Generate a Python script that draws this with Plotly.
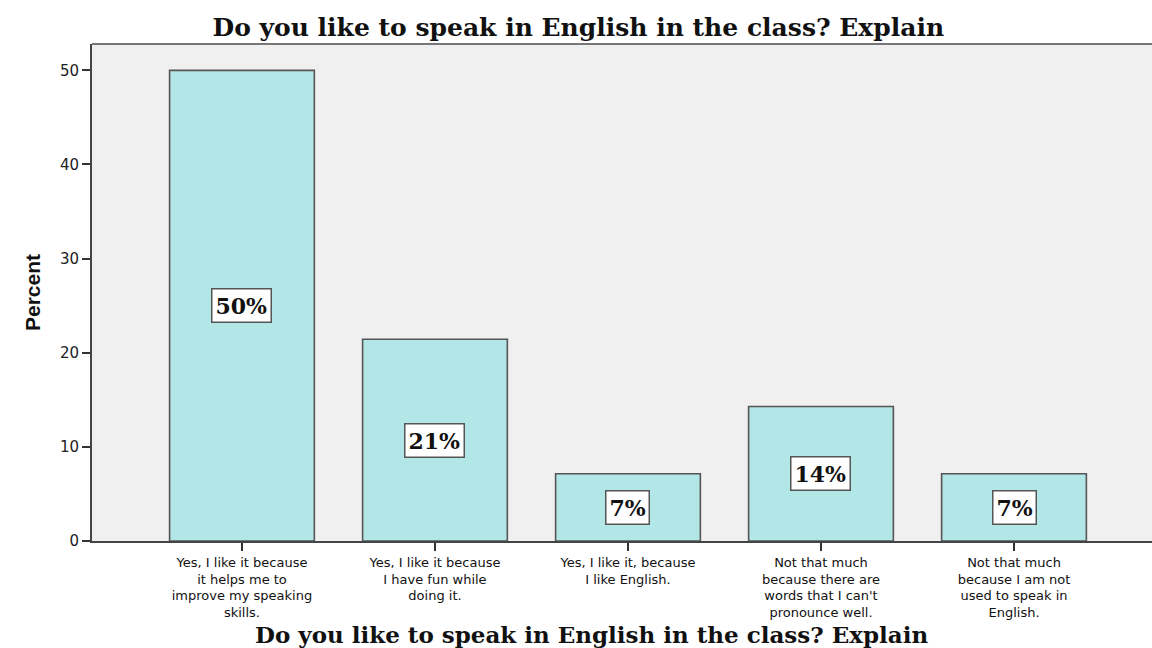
import plotly.graph_objects as go

categories = ["c1", "c2", "c3", "c4", "c5"]
tick_labels = [
    "Yes, I like it because<br>it helps me to<br>improve my speaking<br>skills.",
    "Yes, I like it because<br>I have fun while<br>doing it.",
    "Yes, I like it, because<br>I like English.",
    "Not that much<br>because there are<br>words that I can't<br>pronounce well.",
    "Not that much<br>because I am not<br>used to speak in<br>English.",
]
percent_values = [50.0, 21.43, 7.14, 14.29, 7.14]
y_ticks = [0, 10, 20, 30, 40, 50]
title_text = "Do you like to speak in English in the class? Explain"

SERIF = "DejaVu Serif, Liberation Serif, serif"

fig = go.Figure()
fig.add_trace(go.Bar(
    x=categories,
    y=percent_values,
    width=0.75,
    marker=dict(color="#b3e6e6", line=dict(color="#555555", width=1.6)),
    hoverinfo="skip",
))

for c, v in zip(categories, percent_values):
    fig.add_annotation(
        x=c, y=v / 2, xref="x", yref="y",
        text=f"<b>{v:.0f}%</b>",
        showarrow=False,
        font=dict(family=SERIF, size=22, color="#111111"),
        bgcolor="white", bordercolor="#555555", borderwidth=1.5, borderpad=3,
    )

# bottom axis title
fig.add_annotation(
    x=0.471, y=-0.189, xref="paper", yref="paper",
    text=f"<b>{title_text}</b>", showarrow=False,
    xanchor="center", yanchor="middle",
    font=dict(family=SERIF, size=23, color="#111111"),
)

# top frame line
fig.add_shape(type="line", xref="paper", yref="paper", x0=0, x1=1, y0=1, y1=1,
              line=dict(color="#777777", width=2))

fig.update_layout(
    width=1152, height=648,
    margin=dict(l=92, r=0, t=44, b=107, autoexpand=False),
    paper_bgcolor="white",
    plot_bgcolor="#f0f0f0",
    showlegend=False,
    title=dict(
        text=f"<b>{title_text}</b>",
        x=0.502, xanchor="center", y=1 - 27 / 648, yanchor="middle",
        font=dict(family=SERIF, size=25, color="#111111"),
    ),
    xaxis=dict(
        type="category",
        range=[-0.777, 4.715],
        tickvals=categories, ticktext=tick_labels,
        ticks="outside", ticklen=8, tickwidth=1.5, tickcolor="#333333",
        showline=True, linecolor="#444444", linewidth=2,
        showgrid=False, zeroline=False, automargin=False,
        tickfont=dict(family="DejaVu Sans, sans-serif", size=13, color="#111111"),
    ),
    yaxis=dict(
        range=[0, 52.8],
        tickvals=y_ticks,
        ticks="outside", ticklen=8, tickwidth=1.5, tickcolor="#333333",
        showline=True, linecolor="#444444", linewidth=2,
        showgrid=False, zeroline=False, automargin=False,
        tickfont=dict(family="DejaVu Sans, sans-serif", size=15, color="#222222"),
        title=dict(text="<b>Percent</b>", standoff=14,
                   font=dict(family="Liberation Sans Narrow, Arial Narrow, sans-serif", size=21, color="#111111")),
    ),
)

fig.write_html("out.html", config={"displayModeBar": False},
               post_script="document.body.style.margin='0';")
